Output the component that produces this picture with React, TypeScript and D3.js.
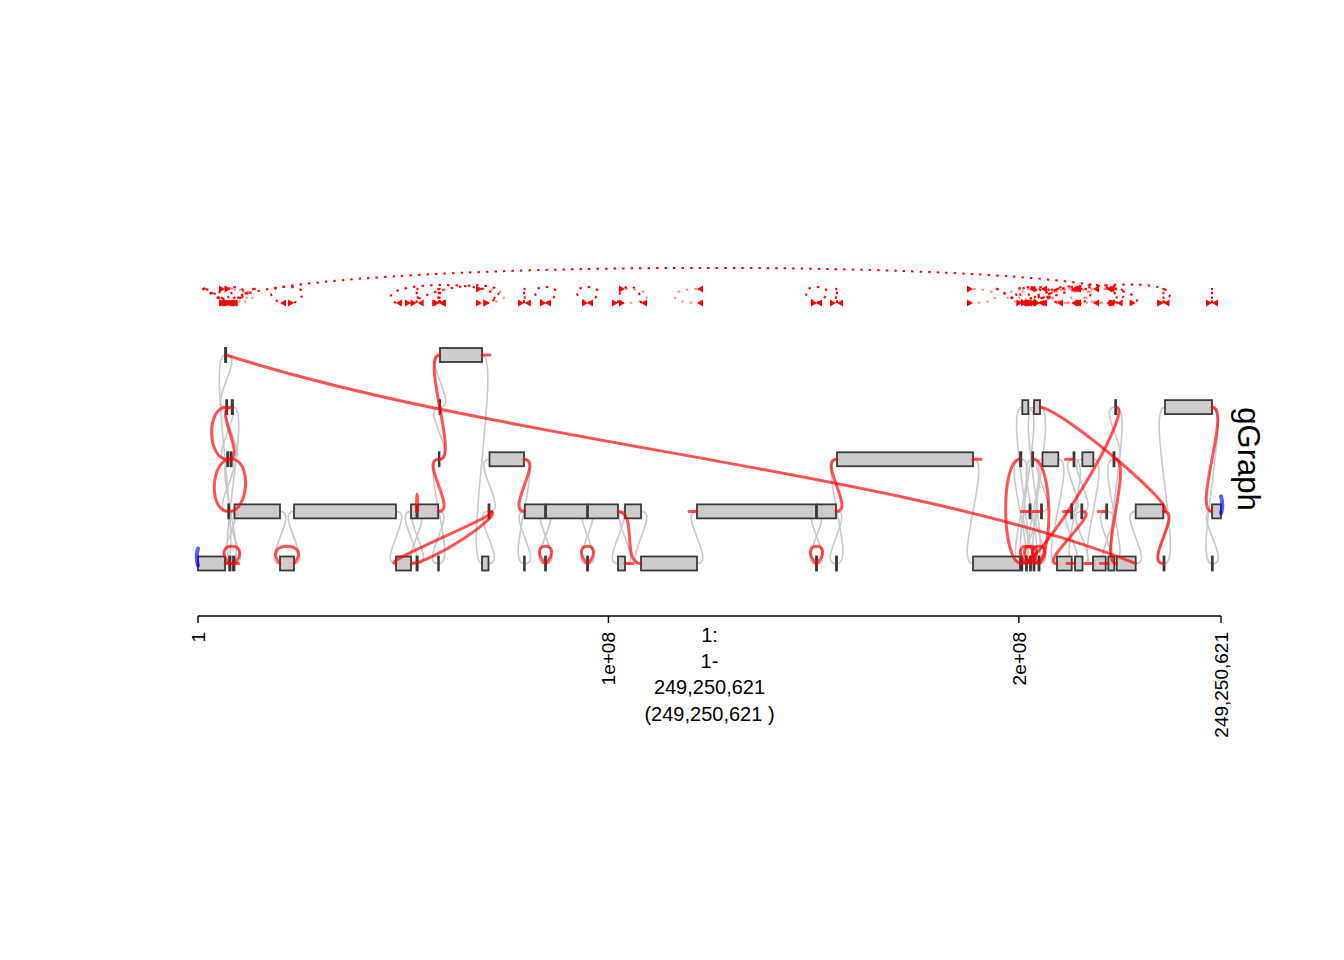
import React from "react";
import * as d3 from "d3";

const CHROM_LENGTH = 249250621;

// genome segments in genome order: [start Mb, end Mb, copy number]
const segments: [number, number, number][] = [
  [0, 6.58, 1], [6.58, 6.87, 5], [6.87, 7.11, 4], [7.11, 7.36, 3], [7.36, 7.6, 2],
  [7.6, 7.92, 1], [7.92, 8.21, 3], [8.21, 8.53, 4], [8.53, 8.89, 1], [8.89, 19.98, 2],
  [19.98, 23.39, 1], [23.39, 48.24, 2], [48.24, 51.9, 1], [51.9, 53.24, 2], [53.24, 53.53, 1],
  [53.53, 58.52, 2], [58.52, 58.69, 1], [58.69, 58.84, 3], [58.84, 58.96, 4], [58.96, 69.2, 5],
  [69.2, 70.78, 1], [70.78, 71.02, 2], [71.02, 79.43, 3], [79.43, 79.62, 1], [79.62, 84.55, 2],
  [84.55, 84.79, 1], [84.79, 94.78, 2], [94.78, 95.02, 1], [95.02, 102.33, 2], [102.33, 104.04, 1],
  [104.04, 107.94, 2], [107.94, 121.58, 1], [121.58, 150.57, 2], [150.57, 150.82, 1], [150.82, 155.45, 2],
  [155.45, 155.69, 1], [155.69, 188.83, 3], [188.83, 200.28, 1], [200.28, 200.6, 3], [200.6, 200.84, 1],
  [200.84, 202.3, 4], [201.72, 201.97, 1], [202.59, 202.84, 2], [202.71, 202.96, 1], [203.25, 203.49, 3],
  [203.57, 203.81, 1], [203.69, 205.15, 4], [204.78, 205.03, 1], [205.39, 205.64, 2], [205.76, 209.61, 3],
  [209.29, 212.88, 1], [212.75, 213.0, 2], [213.31, 213.56, 3], [213.68, 215.51, 1], [215.22, 215.46, 2],
  [215.46, 218.14, 3], [218.06, 221.16, 1], [221.28, 221.52, 2], [221.79, 223.25, 1], [223.05, 223.3, 3],
  [223.47, 223.71, 4], [223.84, 228.47, 1], [228.47, 235.19, 2], [235.24, 235.49, 1], [235.6, 247.06, 4],
  [247.01, 247.25, 1], [247.06, 249.25, 2],
];

// alt junctions: [segment, side, segment, side]  (side 0 = left end, 1 = right end)
const altEdges: [number, number, number, number][] = [
  [1, 1, 61, 1], [2, 0, 3, 0], [7, 0, 3, 1], [6, 0, 4, 0], [6, 1, 4, 1],
  [8, 1, 5, 0], [10, 1, 10, 0], [12, 0, 21, 1], [12, 1, 21, 1], [13, 1, 15, 0],
  [19, 0, 17, 1], [17, 0, 15, 1], [22, 1, 24, 0], [25, 1, 25, 0], [27, 1, 27, 0],
  [28, 1, 31, 0], [33, 1, 33, 0], [36, 0, 34, 1], [38, 0, 39, 0], [44, 1, 45, 1],
  [41, 1, 41, 0], [43, 1, 43, 0], [47, 1, 47, 0], [39, 1, 60, 1], [46, 1, 62, 1],
  [62, 1, 63, 0], [50, 0, 54, 1], [59, 1, 61, 0], [64, 1, 66, 0],
];

// loose ends: [segment, side]
const looseEnds: [number, number][] = [
  [0, 1], [5, 1], [19, 1], [29, 1], [32, 0], [36, 1], [42, 0], [48, 0],
  [51, 0], [52, 0], [53, 0], [56, 0], [57, 0], [58, 0],
];

// chromosome ends
const terminalEnds: [number, number][] = [[0, 0], [66, 1]];

const axisTicks = [1, 1e8, 2e8, 249250621];
const axisTickLabels = ["1", "1e+08", "2e+08", "249,250,621"];
const regionLabel = ["1:", "1-", "249,250,621", "(249,250,621 )"];
const trackName = "gGraph";

const FONT = "'Liberation Sans', Arial, Helvetica, sans-serif";
const RED = "rgba(255,0,0,0.68)";

export default function App() {
  const x = d3.scaleLinear().domain([1, CHROM_LENGTH]).range([198, 1221]);
  const y = d3.scaleLinear().domain([1, 5]).range([563.5, 355]);

  const endPt = (i: number, side: number) => {
    const [s, e, cn] = segments[i];
    return { px: x((side ? e : s) * 1e6), py: y(cn), dir: side ? 1 : -1 };
  };

  const isDeletion = (x1: number, s1: number, x2: number, s2: number) => {
    const lo = x1 <= x2 ? s1 : s2;
    const hi = x1 <= x2 ? s2 : s1;
    return lo > 0 && hi < 0;
  };

  // gGraph edge: bezier leaving each end on its own side
  const edgePath = (a: any, b: any) => {
    const bx = 20, bulge = 23;
    const p = d3.path();
    p.moveTo(a.px, a.py);
    const dx = b.px - a.px, dy = b.py - a.py;
    if (Math.abs(dy) < 1) {
      const hx = isDeletion(a.px, a.dir, b.px, b.dir) ? 0 : bx;
      p.bezierCurveTo(a.px + a.dir * hx, a.py - bulge, b.px + b.dir * hx, b.py - bulge, b.px, b.py);
    } else if (Math.abs(dx) > 300) {
      // long-range junction: sagging curve
      p.bezierCurveTo(a.px + 0.3 * dx, a.py + 0.42 * dy, b.px - 0.26 * dx, b.py - 0.45 * dy, b.px, b.py);
    } else {
      p.bezierCurveTo(a.px + a.dir * bx, a.py, b.px + b.dir * bx, b.py, b.px, b.py);
    }
    return p.toString();
  };

  // junction track arcs
  const base = 303, upper = 289;
  const arcPath = (a: any, b: any) => {
    const span = Math.abs(b.px - a.px);
    const v = ((16 + 0.021 * span) * 4) / 3;
    const hx = isDeletion(a.px, a.dir, b.px, b.dir) ? 0 : 36;
    const p = d3.path();
    p.moveTo(a.px, base);
    p.bezierCurveTo(a.px + a.dir * hx, base - v, b.px + b.dir * hx, base - v, b.px, base);
    return p.toString();
  };

  const arrow = (px: number, py: number, dir: number) =>
    `M${px},${py}L${px - dir * 6},${py - 3.5}L${px - dir * 6},${py + 3.5}Z`;

  const refEdges = d3.range(segments.length - 1).map((i) => [endPt(i, 1), endPt(i + 1, 0)]);
  const alts = altEdges.map(([i, si, j, sj]) => [endPt(i, si), endPt(j, sj)]);
  const loose = looseEnds.map(([i, s]) => endPt(i, s));
  const terms = terminalEnds.map(([i, s]) => endPt(i, s));

  const axisY = 616;
  const midX = (x(1) + x(CHROM_LENGTH)) / 2;

  return (
    <svg width={1344} height={960} style={{ position: "absolute", left: 0, top: 0, background: "#fff" }}>
      {/* junction track */}
      <g fill="none" strokeWidth={2} strokeDasharray="2.5 6">
        {alts.map(([a, b], k) => (
          <path key={k} d={arcPath(a, b)} stroke="#ff0000" />
        ))}
        {loose.map((a, k) => (
          <path
            key={k}
            d={`M${a.px},${upper}C${a.px + a.dir * 30},${upper} ${a.px + a.dir * 30},${base} ${a.px},${base}`}
            stroke="rgba(255,0,0,0.45)"
          />
        ))}
      </g>
      <g fill="#ff0000">
        {alts.map(([a, b], k) => (
          <g key={k}>
            <path d={arrow(a.px, base, a.dir)} />
            <path d={arrow(b.px, base, b.dir)} />
          </g>
        ))}
        {loose.map((a, k) => (
          <g key={k}>
            <path d={arrow(a.px, upper, a.dir)} />
            <path d={arrow(a.px, base, a.dir)} />
          </g>
        ))}
      </g>

      {/* reference edges */}
      <g fill="none" stroke="#c8c8c8" strokeWidth={1.6}>
        {refEdges.map(([a, b], k) => (
          <path key={k} d={edgePath(a, b)} />
        ))}
      </g>

      {/* segments */}
      <g fill="#cccccc" stroke="#3a3a3a" strokeWidth={1.8}>
        {segments.map(([s, e, cn], k) => {
          const x0 = x(s * 1e6);
          const x1 = x(e * 1e6);
          return <rect key={k} x={x0} y={y(cn) - 7} width={Math.max(x1 - x0, 0.6)} height={14} />;
        })}
      </g>

      {/* alt edges and loose ends */}
      <g fill="none" stroke={RED} strokeWidth={3} strokeLinecap="round">
        {alts.map(([a, b], k) => (
          <path key={k} d={edgePath(a, b)} />
        ))}
        {loose.map((a, k) => (
          <path key={k} d={`M${a.px},${a.py}L${a.px + a.dir * 8},${a.py}`} />
        ))}
      </g>
      <g fill="none" stroke="rgba(0,0,255,0.65)" strokeWidth={4} strokeLinecap="round">
        {terms.map((a, k) => (
          <path
            key={k}
            d={`M${a.px},${a.py + 2}C${a.px + a.dir * 1.5},${a.py - 3} ${a.px + a.dir * 1.5},${a.py - 10} ${a.px},${a.py - 15}`}
          />
        ))}
      </g>

      {/* axis */}
      <g stroke="#000" strokeWidth={1.4}>
        <line x1={x(1)} x2={x(CHROM_LENGTH)} y1={axisY} y2={axisY} />
        {axisTicks.map((t, k) => (
          <line key={k} x1={x(t)} x2={x(t)} y1={axisY} y2={axisY + 7} />
        ))}
      </g>
      <g fontFamily={FONT} fontSize={19} fill="#000">
        {axisTicks.map((t, k) => (
          <text key={k} transform={`translate(${x(t)},632) rotate(-90)`} dy="0.35em" textAnchor="end">
            {axisTickLabels[k]}
          </text>
        ))}
      </g>
      <g fontFamily={FONT} fontSize={20} fill="#000" textAnchor="middle">
        {regionLabel.map((l, k) => (
          <text key={k} x={midX} y={642 + k * 26.2}>
            {l}
          </text>
        ))}
      </g>
      <text
        transform={`translate(1238,459) rotate(90)`}
        fontFamily={FONT}
        fontSize={31}
        textAnchor="middle"
        fill="#000"
      >
        {trackName}
      </text>
    </svg>
  );
}
